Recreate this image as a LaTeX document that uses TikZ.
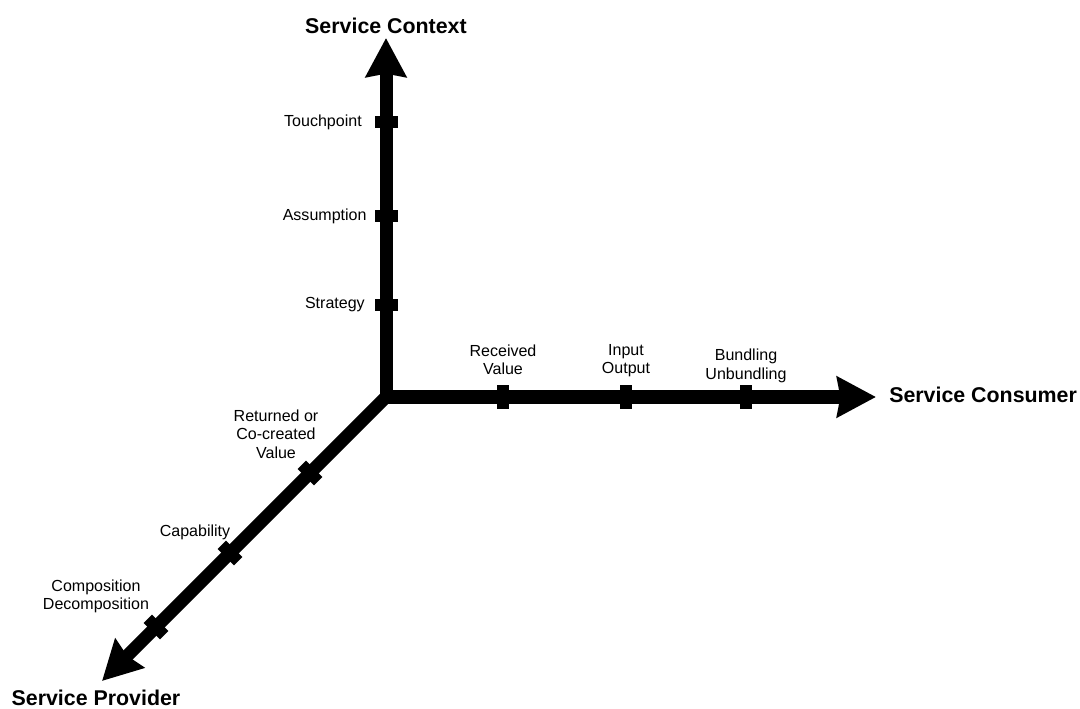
\documentclass[tikz,border=0pt]{standalone}
\usepackage{fontspec}
\setmainfont{Liberation Sans}
\usetikzlibrary{arrows.meta, positioning}

\begin{document}
\begin{tikzpicture}[
    axis/.style={
        line width=0.325cm,
        line join=miter,
        -{Stealth[length=0.97cm, width=1cm, inset=0.08cm]}
    },
    tick/.style={
        rectangle,
        fill=black,
        inner sep=0pt,
        minimum width=0.3cm,
        minimum height=0.575cm,
        rotate=#1
    },
    label/.style={
        align=center,
        inner sep=0pt,
        font=\fontsize{11.4}{13}\selectfont
    },
    title/.style={
        inner sep=0pt,
        font=\fontsize{15.2}{18}\selectfont\bfseries
    }
]

\useasboundingbox (-9.65,-7.775) rectangle (17.35,9.925);

% Origin and axis ends
\coordinate (origin) at (0,0);
\coordinate (context) at (0,8.975);
\coordinate (consumer) at (12.25,0);
\coordinate (provider) at (-7.1,-7.1);

% Axes
\draw[axis, {Stealth[length=0.97cm, width=1cm, inset=0.08cm]}-{Stealth[length=0.97cm, width=1cm, inset=0.08cm]}] (context) -- (origin) -- (consumer);
\draw[axis] (origin) -- (provider);

% Ticks on the context axis
\node[tick=90] (strategy) at (0,2.3) {};
\node[tick=90] (assumption) at (0,4.525) {};
\node[tick=90] (touchpoint) at (0,6.875) {};

% Ticks on the consumer axis
\node[tick=0] (received) at (2.925,0) {};
\node[tick=0] (inout) at (6.0,0) {};
\node[tick=0] (bundling) at (9.0,0) {};

% Ticks on the provider axis
\node[tick=45] (returned) at (-1.9,-1.9) {};
\node[tick=45] (capability) at (-3.9,-3.9) {};
\node[tick=45] (composition) at (-5.75,-5.75) {};

% Axis titles
\node[title] (contextlbl) at (0,9.29) {Service Context};
\node[title, anchor=west] (consumerlbl) at (12.575,0.06) {Service Consumer};
\node[title] (providerlbl) at (-7.25,-7.51) {Service Provider};

% Labels on the context axis
\node[label, anchor=east] (strategylbl) at (-0.525,2.3) {Strategy};
\node[label, anchor=east] (assumptionlbl) at (-0.48,4.525) {Assumption};
\node[label, anchor=east] (touchpointlbl) at (-0.6,6.875) {Touchpoint};

% Labels on the consumer axis
\node[label] (receivedlbl) at (2.925,0.925) {Received\\Value};
\node[label] (inoutlbl) at (6.0,0.9) {Input\\Output};
\node[label] (bundlinglbl) at (9.0,0.78) {Bundling\\Unbundling};

% Labels on the provider axis
\node[label] (returnedlbl) at (-2.75,-0.925) {Returned or\\Co-created\\Value};
\node[label] (capabilitylbl) at (-4.775,-3.39) {Capability};
\node[label] (compositionlbl) at (-7.25,-4.975) {Composition\\Decomposition};

\end{tikzpicture}
\end{document}
